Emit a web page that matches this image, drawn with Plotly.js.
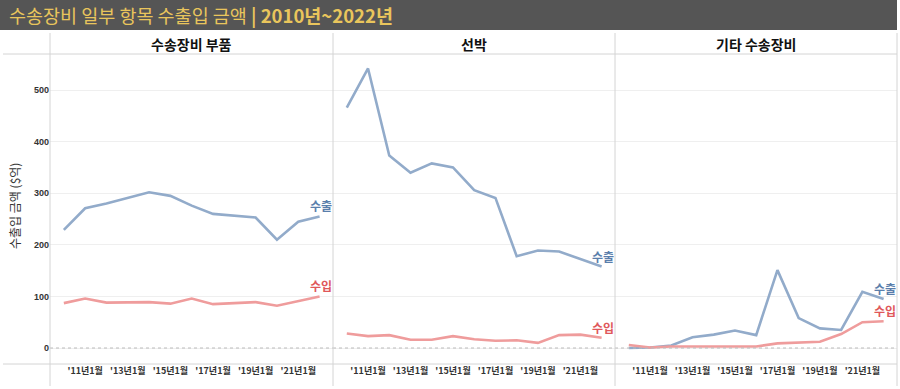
<!DOCTYPE html>
<html>
<head>
<meta charset="utf-8">
<script src="https://cdn.plot.ly/plotly-3.0.1.min.js"></script>
<style>html,body{margin:0;padding:0;background:#fff}#chart{width:900px;height:389px}</style>
</head>
<body>
<div id="chart"></div>
<script>
const years = [2010,2011,2012,2013,2014,2015,2016,2017,2018,2019,2020,2021,2022];
const panels = ["수송장비 부품", "선박", "기타 수송장비"];
const tickYears = [2011,2013,2015,2017,2019,2021];
const tickLabels = ["'11년1월","'13년1월","'15년1월","'17년1월","'19년1월","'21년1월"];
const partsExport = [229,271,280,291,302,295,276,260,256,253,210,245,255];
const partsImport = [87,96,88,88,89,86,96,85,87,89,82,91,100];
const shipExport = [466,542,373,340,358,350,306,291,178,189,187,172,158];
const shipImport = [28,23,25,16,16,23,17,14,15,10,25,26,20];
const otherExport = [0,1,5,21,26,34,25,151,58,38,35,109,95];
const otherImport = [6,1,3,3,4,3,3,9,10,12,27,50,52];
const seriesNames = ["수출", "수입"];

const exportLine = "#92abca", importLine = "#ef9c9c";
const exportText = "#5a7eab", importText = "#e0575a";
const W = 900, H = 389, L = 50, R = 3, T = 54, B = 25;
const pw = W - L - R, ph = H - T - B;
const px = x => (x - L) / pw;
const py = y => (H - B - y) / ph;

const data = [];
const exportsArr = [partsExport, shipExport, otherExport];
const importsArr = [partsImport, shipImport, otherImport];
const ax = ["", "2", "3"];
for (let i = 0; i < 3; i++) {
  data.push({x: years, y: exportsArr[i], type: "scatter", mode: "lines", name: seriesNames[0],
    xaxis: "x" + ax[i], yaxis: "y" + ax[i], line: {color: exportLine, width: 2.6}, hoverinfo: "x+y"});
  data.push({x: years, y: importsArr[i], type: "scatter", mode: "lines", name: seriesNames[1],
    xaxis: "x" + ax[i], yaxis: "y" + ax[i], line: {color: importLine, width: 2.6}, hoverinfo: "x+y"});
}

const bounds = [[50, 333], [333, 615], [615, 897]];
const layout = {
  width: W, height: H, showlegend: false,
  margin: {l: L, r: R, t: T, b: B},
  paper_bgcolor: "#fff", plot_bgcolor: "#fff",
  font: {family: "'Noto Sans CJK KR', 'Noto Sans', sans-serif", color: "#333"},
  shapes: [], annotations: []
};
for (let i = 0; i < 3; i++) {
  const xa = {
    domain: [px(bounds[i][0]), px(bounds[i][1])],
    range: [2009.35, 2022.63],
    tickmode: "array", tickvals: tickYears, ticktext: tickLabels,
    tickfont: {size: 9, color: "#333", family: "'Noto Sans CJK KR', sans-serif", weight: "bold"},
    showgrid: false, zeroline: false, showline: false, ticks: "", fixedrange: true
  };
  const ya = {
    domain: [0, 1], range: [-31, 570],
    tickvals: [0,100,200,300,400,500],
    showticklabels: i === 0,
    tickfont: {size: 9, color: "#333", family: "Arial, 'Liberation Sans', sans-serif", weight: "bold"},
    showgrid: true, gridcolor: "#efefef", gridwidth: 1,
    zeroline: false, showline: false, ticks: "", fixedrange: true,
    anchor: "x" + ax[i]
  };
  layout["xaxis" + ax[i]] = Object.assign(xa, {anchor: "y" + ax[i]});
  layout["yaxis" + ax[i]] = ya;
  layout.shapes.push({type: "line", xref: "x" + ax[i] + " domain", yref: "y" + ax[i],
    x0: 0, x1: 1, y0: 0, y1: 0, line: {color: "#bbbbbb", width: 1, dash: "dot"}});
  layout.annotations.push({text: "<b>" + panels[i] + "</b>", xref: "paper", yref: "paper",
    x: px((bounds[i][0] + bounds[i][1]) / 2), y: py(44), xanchor: "center", yanchor: "middle",
    showarrow: false, font: {size: 14, color: "#111"}});
  const n = years.length - 1;
  layout.annotations.push({text: "<b>" + seriesNames[0] + "</b>", xref: "x" + ax[i], yref: "y" + ax[i],
    x: years[n], y: exportsArr[i][n], xanchor: "center", yanchor: "bottom", yshift: 0, xshift: 1,
    showarrow: false, font: {size: 12, color: exportText}});
  layout.annotations.push({text: "<b>" + seriesNames[1] + "</b>", xref: "x" + ax[i], yref: "y" + ax[i],
    x: years[n], y: importsArr[i][n], xanchor: "center", yanchor: "bottom", yshift: 0, xshift: 1,
    showarrow: false, font: {size: 12, color: importText}});
}
layout.shapes.push({type: "rect", xref: "paper", yref: "paper", x0: px(0), x1: px(897), y0: py(30), y1: py(0),
  fillcolor: "#555555", line: {width: 0}, layer: "below"});
layout.annotations.push({text: "수송장비 일부 항목 수출입 금액 <b>| 2010년~2022년</b>", xref: "paper", yref: "paper",
  x: px(7), y: py(15), xanchor: "left", yanchor: "middle", showarrow: false,
  font: {size: 18.5, color: "#e9c55c"}});
const lineCol = "#d4d4d4";
layout.shapes.push({type: "line", xref: "paper", yref: "paper", x0: px(3), x1: px(897), y0: py(54), y1: py(54), line: {color: lineCol, width: 1}});
layout.shapes.push({type: "line", xref: "paper", yref: "paper", x0: px(3), x1: px(897), y0: py(364), y1: py(364), line: {color: lineCol, width: 1}});
[50, 333, 615, 897].forEach(xp => {
  layout.shapes.push({type: "line", xref: "paper", yref: "paper", x0: px(xp), x1: px(xp), y0: py(33), y1: py(386), line: {color: lineCol, width: 1}});
});
layout.annotations.push({text: "수출입 금액 ($억)", xref: "paper", yref: "paper", x: px(14), y: py(206),
  xanchor: "center", yanchor: "middle", textangle: -90, showarrow: false, font: {size: 12, color: "#333"}});

Plotly.newPlot("chart", data, layout, {staticPlot: true, displayModeBar: false});
</script>
</body>
</html>
